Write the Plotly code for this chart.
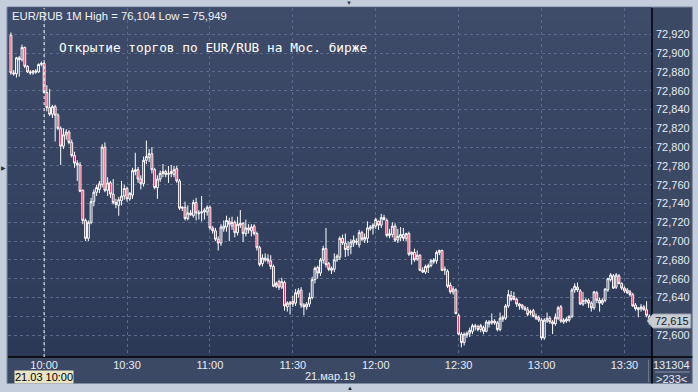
import plotly.graph_objects as go
import pandas as pd

# ---------------- data (EUR/RUB, 1-minute candles, 21.03.2019) ----------------
start_time = "2019-03-21 09:48"

open_ = [
72.919,72.879,72.878,72.895,72.893,72.906,72.886,72.880,72.879,72.881,72.880,72.888,
72.889,72.858,72.842,72.835,72.843,72.834,72.820,72.801,72.813,72.816,
72.805,72.791,72.783,72.781,72.754,72.722,72.703,72.720,72.742,72.752,
72.755,72.760,72.800,72.754,72.762,72.750,72.741,72.738,72.743,72.748,
72.756,72.745,72.749,72.774,72.776,72.766,72.761,72.786,72.789,72.793,
72.776,72.757,72.766,72.772,72.774,72.771,72.772,72.771,72.777,72.764,
72.735,72.736,72.724,72.730,72.727,72.741,72.729,72.730,72.731,72.731,
72.736,72.714,72.711,72.702,72.698,72.713,72.715,72.721,72.716,72.720,
72.709,72.717,72.719,72.708,72.714,72.711,72.716,72.708,72.693,72.676,
72.682,72.681,72.679,72.673,72.652,72.657,72.651,72.656,72.630,72.633,
72.636,72.634,72.644,72.648,72.632,72.630,72.633,72.640,72.659,72.672,
72.666,72.680,72.692,72.676,72.669,72.670,72.680,72.683,72.703,72.698,
72.691,72.694,72.698,72.700,72.696,72.709,72.701,72.703,72.713,72.714,
72.716,72.721,72.717,72.725,72.722,72.706,72.707,72.716,72.701,72.704,
72.707,72.703,72.708,72.686,72.688,72.681,72.685,72.669,72.667,72.672,
72.674,72.678,72.679,72.688,72.690,72.669,72.668,72.653,72.646,72.648,
72.621,72.601,72.592,72.600,72.602,72.604,72.610,72.609,72.606,72.608,
72.604,72.612,72.613,72.615,72.613,72.606,72.617,72.618,72.631,72.642,
72.641,72.638,72.631,72.632,72.629,72.627,72.624,72.626,72.618,72.619,
72.616,72.597,72.615,72.618,72.614,72.612,72.618,72.630,72.614,72.615,
72.616,72.620,72.648,72.651,72.647,72.633,72.636,72.637,72.634,72.629,
72.645,72.637,72.634,72.637,72.648,72.659,72.663,72.651,72.663,72.655,
72.650,72.648,72.646,72.643,72.632,72.627,72.628,72.630,72.627,72.620,
]

high = [
72.922,72.882,72.896,72.897,72.909,72.907,72.887,72.882,72.882,72.883,72.889,72.891,
72.890,72.866,72.862,72.845,72.845,72.836,72.822,72.820,72.819,72.818,
72.808,72.795,72.786,72.784,72.755,72.724,72.722,72.746,72.755,72.760,
72.764,72.803,72.805,72.768,72.764,72.766,72.745,72.747,72.764,72.760,
72.758,72.752,72.778,72.794,72.779,72.770,72.790,72.807,72.798,72.800,
72.778,72.770,72.775,72.782,72.776,72.780,72.781,72.780,72.780,72.766,
72.737,72.742,72.738,72.733,72.744,72.746,72.733,72.748,72.735,72.738,
72.738,72.716,72.714,72.705,72.718,72.722,72.727,72.725,72.726,72.722,
72.726,72.733,72.720,72.723,72.718,72.718,72.718,72.710,72.695,72.686,
72.687,72.686,72.685,72.675,72.657,72.659,72.661,72.658,72.636,72.636,
72.642,72.649,72.650,72.651,72.634,72.635,72.645,72.662,72.673,72.674,
72.682,72.695,72.714,72.678,72.673,72.687,72.686,72.705,72.707,72.708,
72.700,72.702,72.706,72.703,72.712,72.711,72.708,72.721,72.717,72.719,
72.725,72.722,72.729,72.728,72.724,72.713,72.720,72.719,72.713,72.715,
72.714,72.709,72.710,72.689,72.692,72.690,72.686,72.672,72.675,72.676,
72.681,72.682,72.690,72.691,72.691,72.673,72.670,72.656,72.652,72.650,
72.623,72.603,72.603,72.604,72.608,72.612,72.612,72.611,72.612,72.610,
72.616,72.616,72.623,72.617,72.615,72.624,72.621,72.633,72.648,72.647,
72.646,72.640,72.634,72.633,72.631,72.630,72.627,72.628,72.623,72.621,
72.618,72.618,72.624,72.620,72.616,72.623,72.631,72.632,72.618,72.619,
72.621,72.650,72.655,72.656,72.649,72.646,72.639,72.639,72.636,72.647,
72.647,72.640,72.639,72.650,72.661,72.666,72.665,72.666,72.665,72.656,
72.652,72.650,72.648,72.645,72.634,72.630,72.633,72.632,72.636,72.622,
]

low = [
72.877,72.876,72.874,72.875,72.891,72.884,72.879,72.877,72.877,72.878,72.879,72.886,
72.857,72.838,72.833,72.831,72.806,72.818,72.781,72.798,72.808,72.803,
72.789,72.778,72.764,72.752,72.718,72.700,72.700,72.718,72.737,72.748,
72.751,72.757,72.752,72.748,72.746,72.739,72.735,72.727,72.738,72.744,
72.742,72.743,72.745,72.770,72.762,72.755,72.758,72.782,72.784,72.772,
72.755,72.745,72.763,72.768,72.768,72.762,72.768,72.768,72.762,72.733,
72.732,72.722,72.722,72.727,72.725,72.722,72.723,72.721,72.723,72.727,
72.712,72.708,72.700,72.690,72.695,72.710,72.710,72.700,72.712,72.704,
72.706,72.714,72.699,72.705,72.708,72.705,72.706,72.690,72.673,72.673,
72.678,72.676,72.670,72.651,72.650,72.648,72.649,72.626,72.625,72.622,
72.630,72.631,72.640,72.629,72.621,72.627,72.630,72.638,72.655,72.660,
72.663,72.676,72.672,72.668,72.665,72.667,72.678,72.680,72.696,72.683,
72.684,72.686,72.694,72.696,72.693,72.700,72.698,72.698,72.711,72.707,
72.713,72.712,72.714,72.722,72.704,72.703,72.704,72.699,72.698,72.700,
72.700,72.700,72.684,72.675,72.678,72.679,72.668,72.666,72.665,72.666,
72.672,72.676,72.676,72.685,72.668,72.664,72.650,72.644,72.643,72.622,
72.600,72.587,72.589,72.597,72.598,72.601,72.605,72.604,72.603,72.601,
72.603,72.608,72.611,72.611,72.604,72.604,72.614,72.616,72.629,72.636,
72.637,72.630,72.627,72.627,72.626,72.620,72.621,72.619,72.616,72.614,
72.595,72.595,72.613,72.612,72.601,72.610,72.616,72.613,72.612,72.613,
72.614,72.618,72.645,72.646,72.632,72.631,72.633,72.629,72.625,72.627,
72.634,72.625,72.632,72.635,72.646,72.657,72.649,72.649,72.654,72.648,
72.645,72.644,72.641,72.630,72.626,72.619,72.625,72.626,72.619,72.611,
]

close = [
72.879,72.878,72.895,72.893,72.906,72.886,72.880,72.879,72.881,72.880,72.888,72.889,
72.858,72.842,72.835,72.843,72.834,72.820,72.801,72.813,72.816,72.805,
72.791,72.783,72.781,72.753,72.722,72.703,72.720,72.742,72.752,72.757,
72.761,72.800,72.754,72.762,72.750,72.741,72.739,72.744,72.748,72.756,
72.745,72.751,72.775,72.776,72.766,72.761,72.786,72.790,72.793,72.776,
72.757,72.766,72.772,72.774,72.771,72.772,72.774,72.776,72.764,72.735,
72.736,72.724,72.730,72.728,72.741,72.730,72.730,72.731,72.733,72.736,
72.714,72.711,72.702,72.698,72.715,72.716,72.722,72.718,72.720,72.709,
72.718,72.719,72.708,72.714,72.712,72.715,72.708,72.693,72.675,72.682,
72.680,72.679,72.673,72.652,72.655,72.651,72.657,72.631,72.634,72.635,
72.633,72.645,72.647,72.632,72.630,72.633,72.640,72.659,72.671,72.666,
72.680,72.692,72.675,72.670,72.671,72.680,72.684,72.703,72.698,72.691,
72.694,72.699,72.701,72.699,72.709,72.702,72.704,72.714,72.715,72.717,
72.723,72.717,72.725,72.723,72.706,72.708,72.716,72.701,72.705,72.707,
72.703,72.708,72.686,72.688,72.680,72.685,72.669,72.667,72.673,72.674,
72.679,72.680,72.688,72.690,72.669,72.670,72.652,72.646,72.649,72.623,
72.601,72.592,72.601,72.602,72.605,72.610,72.609,72.606,72.610,72.604,
72.614,72.614,72.615,72.613,72.606,72.618,72.619,72.631,72.643,72.638,
72.638,72.633,72.633,72.629,72.627,72.622,72.625,72.620,72.620,72.616,
72.597,72.616,72.618,72.614,72.612,72.619,72.629,72.615,72.616,72.617,
72.620,72.648,72.652,72.648,72.633,72.637,72.637,72.634,72.629,72.646,
72.637,72.634,72.637,72.649,72.660,72.664,72.650,72.664,72.655,72.650,
72.647,72.645,72.643,72.631,72.628,72.629,72.630,72.627,72.621,72.615,
]

times = pd.date_range(start_time, periods=len(close), freq="1min")

y_ticks = [72.60, 72.62, 72.64, 72.66, 72.68, 72.70, 72.72, 72.74, 72.76,
           72.78, 72.80, 72.82, 72.84, 72.86, 72.88, 72.90, 72.92]
x_ticks = ["2019-03-21 10:00", "2019-03-21 10:30", "2019-03-21 11:00", "2019-03-21 11:30",
           "2019-03-21 12:00", "2019-03-21 12:30", "2019-03-21 13:00", "2019-03-21 13:30"]
x_ticktext = ["10:00", "10:30", "11:00", "11:30", "12:00", "12:30", "13:00", "13:30"]

title_text = "EUR/RUB 1M High = 76,104 Low = 75,949"
note_text = "Открытие торгов по EUR/RUB на Мос. бирже"
cursor_time = "2019-03-21 10:00"
cursor_label = "21.03 10:00"
date_label = "21.мар.19"
volume_text = "131304"
bars_text = "&gt;233&lt;"

last = close[-1]
# the 72,620 label sits behind the last-price tag in the reference
y_ticktext = ["" if abs(v - last) < 0.008 else f"{v:.3f}".replace(".", ",") for v in y_ticks]

# ---------------- geometry helpers (pixels -> paper) ----------------
W, H = 698, 392
L, R, T, B = 8, 43, 8, 35
PW, PH = W - L - R, H - T - B


def px(x):
    return (x - L) / PW


def py(y):
    return (H - B - y) / PH


fig = go.Figure()

fig.add_trace(go.Candlestick(
    x=times, open=open_, high=high, low=low, close=close,
    increasing=dict(line=dict(color="#ffffff", width=1), fillcolor="#34425e"),
    decreasing=dict(line=dict(color="#ffffff", width=1), fillcolor="#f0103c"),
    whiskerwidth=0, showlegend=False, hoverinfo="skip",
))

shapes = []
shapes.append(dict(type="rect", xref="paper", yref="paper", x0=px(7), x1=px(695.5),
                   y0=py(383.5), y1=py(7), fillcolor="#3c4965",
                   line=dict(color="#7d8aa0", width=1), layer="below"))
top_c = (0x3f, 0x4c, 0x69)
bot_c = (0x2b, 0x39, 0x57)
n = 24
for i in range(n):
    f = (i + 0.5) / n
    c = tuple(int(round(bot_c[k] + (top_c[k] - bot_c[k]) * f)) for k in range(3))
    shapes.append(dict(type="rect", xref="paper", yref="paper", x0=0, x1=1,
                       y0=i / n, y1=(i + 1) / n + 0.002,
                       fillcolor="rgb(%d,%d,%d)" % c, line=dict(width=0), layer="below"))
shapes.append(dict(type="line", xref="paper", yref="paper", x0=1, x1=1, y0=py(383.5), y1=1,
                   line=dict(color="#000000", width=1.5)))
shapes.append(dict(type="line", xref="paper", yref="paper", x0=0, x1=px(695.5), y0=0, y1=0,
                   line=dict(color="#000000", width=1.5)))
shapes.append(dict(type="line", xref="paper", yref="paper", x0=px(658), x1=px(693),
                   y0=py(372), y1=py(372), line=dict(color="#8a96aa", width=1)))
shapes.append(dict(type="line", xref="paper", yref="paper", x0=px(651.5), x1=px(651.5),
                   y0=py(360), y1=py(382), line=dict(color="#6b7890", width=1)))
shapes.append(dict(type="line", xref="x", yref="paper", x0=cursor_time, x1=cursor_time,
                   y0=0, y1=1, line=dict(color="#ffffff", width=1, dash="dot")))
hh = 7 * (0.02 / 18.8)
path = "M {a},{m} L {b},{t} L {c},{t} L {c},{bt} L {b},{bt} Z".format(
    a=px(650), b=px(656), c=px(694), m=last, t=last + hh, bt=last - hh)
shapes.append(dict(type="path", xref="paper", yref="y", path=path,
                   fillcolor="#c9cdd4", line=dict(color="#9aa1ad", width=1)))

annotations = [
    dict(text=title_text, xref="paper", yref="paper", x=px(10), y=py(8), xanchor="left",
         yanchor="top", showarrow=False, font=dict(family="Liberation Sans", size=11.3, color="#eef2f8")),
    dict(text=note_text, xref="paper", yref="paper", x=px(57), y=py(47), xanchor="left",
         yanchor="middle", showarrow=False,
         font=dict(family="DejaVu Sans Mono", size=12.8, color="#ffffff")),
    dict(text=cursor_label, xref="x", yref="paper", x=cursor_time, y=py(377), xanchor="center",
         yanchor="middle", showarrow=False, bgcolor="#e8e4c6", borderpad=0,
         font=dict(family="Liberation Sans", size=11, color="#000000")),
    dict(text=date_label, xref="paper", yref="paper", x=px(331), y=py(376), xanchor="center",
         yanchor="middle", showarrow=False,
         font=dict(family="Liberation Sans", size=11, color="#e6ebf3")),
    dict(text=volume_text, xref="paper", yref="paper", x=px(675), y=py(365), xanchor="center",
         yanchor="middle", showarrow=False,
         font=dict(family="Liberation Sans", size=11, color="#e6ebf3")),
    dict(text=bars_text, xref="paper", yref="paper", x=px(675), y=py(379), xanchor="center",
         yanchor="middle", showarrow=False,
         font=dict(family="Liberation Sans", size=11, color="#e6ebf3")),
    dict(text=f"{last:.3f}".replace(".", ","), xref="paper", yref="y", x=px(675), y=last,
         xanchor="center", yanchor="middle", showarrow=False,
         font=dict(family="Liberation Sans", size=11, color="#111827")),
    dict(text="▼", xref="paper", yref="paper", x=px(351), y=py(3.5), xanchor="center",
         yanchor="middle", showarrow=False, font=dict(size=6, color="#3a4252")),
    dict(text="▲", xref="paper", yref="paper", x=px(352), y=py(387.5), xanchor="center",
         yanchor="middle", showarrow=False, font=dict(size=6, color="#1a1f2a")),
    dict(text="▶", xref="paper", yref="paper", x=px(3.5), y=py(168), xanchor="center",
         yanchor="middle", showarrow=False, font=dict(size=6, color="#2a3040")),
]

fig.update_layout(
    width=W, height=H,
    margin=dict(l=L, r=R, t=T, b=B, pad=0),
    paper_bgcolor="#c3cddb",
    plot_bgcolor="#34425e",
    shapes=shapes,
    annotations=annotations,
    boxgap=0.05,
    hovermode=False,
    showlegend=False,
    xaxis=dict(
        type="date", range=["2019-03-21 09:46:56", "2019-03-21 13:39:58"],
        tickvals=x_ticks, ticktext=x_ticktext, ticks="", showline=False,
        showgrid=True, gridcolor="#5b6a88", griddash="3px,3px", gridwidth=1,
        zeroline=False, rangeslider=dict(visible=False), fixedrange=True,
        tickfont=dict(family="Liberation Sans", size=11, color="#e6ebf3"),
    ),
    yaxis=dict(
        side="right", range=[72.5767, 72.948],
        tickvals=y_ticks, ticktext=y_ticktext, ticks="", showline=False,
        showgrid=True, gridcolor="#5b6a88", griddash="3px,3px", gridwidth=1,
        zeroline=False, fixedrange=True, ticklabelstandoff=3,
        tickfont=dict(family="Liberation Sans", size=11, color="#e6ebf3"),
    ),
)

fig.write_html("out.html")
